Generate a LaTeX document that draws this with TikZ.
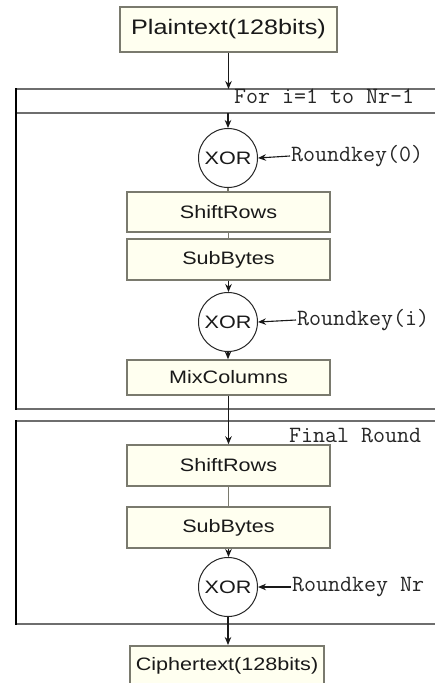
\documentclass[tikz,border=0pt]{standalone}
\usepackage{fontspec}
\newfontfamily\boxfont[FakeStretch=1.2]{Liberation Sans}
\newfontfamily\keyfont{Latin Modern Mono}
\usetikzlibrary{arrows.meta}
\definecolor{boxgray}{HTML}{7A7A6E}
\definecolor{boxfill}{HTML}{FFFFF0}
\definecolor{framegray}{HTML}{6E6E6E}
\tikzset{
  proc/.style={draw=boxgray, fill=boxfill, line width=1.5pt, minimum width=203pt,
    minimum height=41pt, inner sep=0pt, font=\boxfont\fontsize{18}{20}\selectfont, text=black!90},
  xorc/.style={circle, draw=black!85, fill=white, line width=1pt, minimum size=59pt, inner sep=0pt,
    font=\boxfont\fontsize{18}{20}\selectfont, text=black!90},
  keylab/.style={font=\keyfont\fontsize{23.3}{25}\selectfont, inner sep=1pt, text=black!85},
  arr/.style={-{Stealth[length=8pt,width=6.5pt]}, line width=1.1pt, draw=black!90},
  link/.style={line width=1.2pt, draw=boxgray},
  frametb/.style={line width=1.6pt, draw=framegray},
  frameleft/.style={line width=1.2pt, draw=black}
}
\begin{document}
\begin{tikzpicture}[x=1pt,y=-1pt]
\useasboundingbox (0,0) rectangle (435,683);
\fill[white] (0,0) rectangle (435,683);

% outer frames
\coordinate (f1t) at (228.5,89);
\coordinate (f1h) at (228.5,113);
\coordinate (f1b) at (228.5,409);
\coordinate (f2t) at (228.5,421);
\coordinate (f2b) at (228.5,624);
\draw[frametb] (16,89) -- (440,89);
\draw[frametb] (16,113) -- (440,113);
\draw[frametb] (16,409) -- (440,409);
\draw[frameleft] (16,88.2) -- (16,409.8);
\draw[frametb] (16,421) -- (440,421);
\draw[frametb] (16,624) -- (440,624);
\draw[frameleft] (16,420.2) -- (16,624.8);

\node[keylab, anchor=base west] (hdr1) at (233,103) {For i=1 to Nr-1};
\node[keylab, anchor=base west] (hdr2) at (288,442) {Final Round};

% nodes
\node[proc, minimum width=217pt, minimum height=45pt, font=\boxfont\fontsize{21}{23}\selectfont] (plain) at (228.5,29.5) {Plaintext(128bits)};
\node[xorc] (xor1) at (228,158) {XOR};
\node[proc, minimum height=40pt] (sr1) at (228.5,212) {ShiftRows};
\node[proc] (sb1) at (228.5,259.5) {SubBytes};
\node[xorc] (xor2) at (228,322) {XOR};
\node[proc, minimum height=35pt] (mix) at (228.5,377.5) {MixColumns};
\node[proc] (sr2) at (228.5,465.5) {ShiftRows};
\node[proc] (sb2) at (228.5,527.5) {SubBytes};
\node[xorc] (xor3) at (228,587) {XOR};
\node[proc, minimum width=194pt, minimum height=40pt, anchor=north] (ciph) at (227,645) {Ciphertext(128bits)};

\node[keylab, anchor=west] (k0) at (290,156) {Roundkey(0)};
\node[keylab, anchor=west] (ki) at (296,320) {Roundkey(i)};
\node[keylab, anchor=west] (kn) at (291,587) {Roundkey Nr};

% connectors
\draw[arr] (plain.south) -- (plain.south |- f1t);
\draw[arr] (xor1.north |- f1h) -- (xor1.north);
\draw[link] (xor1.south) -- (sr1.north -| xor1.south);
\draw[link] (sr1.south) -- (sb1.north);
\draw[arr] (sb1.south) -- (xor2.north -| sb1.south);
\draw[arr] (xor2.south) -- (mix.north -| xor2.south);
\draw[arr] (mix.south) -- (sr2.north);
\draw[link] (sr2.south) -- (sb2.north);
\draw[arr] (sb2.south) -- (xor3.north -| sb2.south);
\draw[arr] (xor3.south) -- (ciph.north -| xor3.south);

\draw[arr] (k0.west) -- (xor1.east);
\draw[arr] (ki.west) -- (xor2.east);
\draw[arr] (kn.west) -- (xor3.east);
\end{tikzpicture}
\end{document}
